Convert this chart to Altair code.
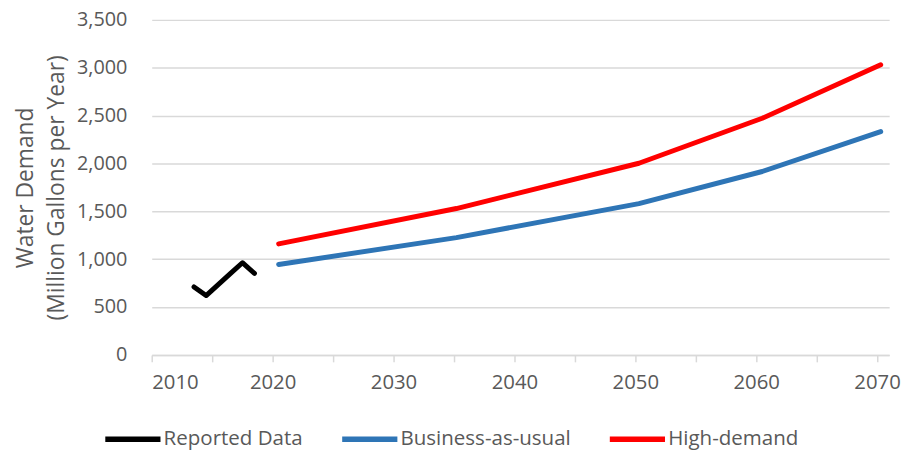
import altair as alt
import pandas as pd

# ---- data ----
reported_years = [2013.5, 2014.5, 2015.5, 2016.5, 2017.5, 2018.5]
reported_values = [710, 620, 735, 850, 963, 852]

proj_years = [2020.5, 2035.2, 2050.3, 2060.5, 2070.3]
bau_values = [945, 1225, 1581, 1916, 2333]
high_values = [1160, 1529, 2002, 2472, 3031]

series_names = ["Reported Data", "Business-as-usual", "High-demand"]
series_colors = ["#000000", "#2E75B6", "#FF0000"]

x_ticks = list(range(2010, 2071, 5))
y_ticks = list(range(0, 3501, 500))
y_title = ["Water Demand", "(Million Gallons per Year)"]

rows = []
for yr, v in zip(reported_years, reported_values):
    rows.append({"series": series_names[0], "year": yr, "value": v})
for yr, v in zip(proj_years, bau_values):
    rows.append({"series": series_names[1], "year": yr, "value": v})
for yr, v in zip(proj_years, high_values):
    rows.append({"series": series_names[2], "year": yr, "value": v})
df = pd.DataFrame(rows)

FONT = "Open Sans"
GRAY = "#595959"
GRID = "#D9D9D9"

chart = alt.Chart(df).mark_line(
    strokeWidth=5, strokeCap="round", strokeJoin="round"
).encode(
    x=alt.X(
        "year:Q",
        scale=alt.Scale(domain=[2010, 2071], nice=False, zero=False),
        axis=alt.Axis(
            title=None,
            values=x_ticks,
            labelExpr="datum.value % 10 == 0 ? format(datum.value, 'd') : ''",
            grid=False,
            domainColor=GRID,
            domainWidth=1.5,
            tickColor=GRID,
            tickWidth=1.5,
            tickSize=7,
            labelPadding=11,
            labelFont=FONT,
            labelFontSize=20.5,
            labelColor=GRAY,
        ),
    ),
    y=alt.Y(
        "value:Q",
        scale=alt.Scale(domain=[0, 3500], nice=False),
        axis=alt.Axis(
            title=y_title,
            values=y_ticks,
            format=",d",
            grid=True,
            gridColor=GRID,
            gridWidth=1.5,
            domain=False,
            ticks=False,
            labelPadding=25,
            labelFont=FONT,
            labelFontSize=20,
            labelColor=GRAY,
            titleFont=FONT,
            titleFontSize=23,
            titleFontWeight="normal",
            titleColor=GRAY,
            titleLineHeight=31,
            titlePadding=8,
        ),
    ),
    color=alt.Color(
        "series:N",
        scale=alt.Scale(domain=series_names, range=series_colors),
        legend=alt.Legend(
            title=None,
            orient="none",
            legendX=-50,
            legendY=392,
            direction="horizontal",
            symbolType="stroke",
            symbolSize=3100,
            symbolStrokeWidth=5.5,
            labelFont=FONT,
            labelFontSize=20.7,
            labelColor=GRAY,
            labelOffset=0,
            columnPadding=28,
            labelLimit=300,
        ),
    ),
).properties(
    width=744,
    height=338,
    autosize="none",
    padding={"left": 145, "top": 10, "right": 19, "bottom": 100},
).configure_view(stroke=None)

chart.save("out.html", embed_options={"renderer": "svg", "actions": False})
